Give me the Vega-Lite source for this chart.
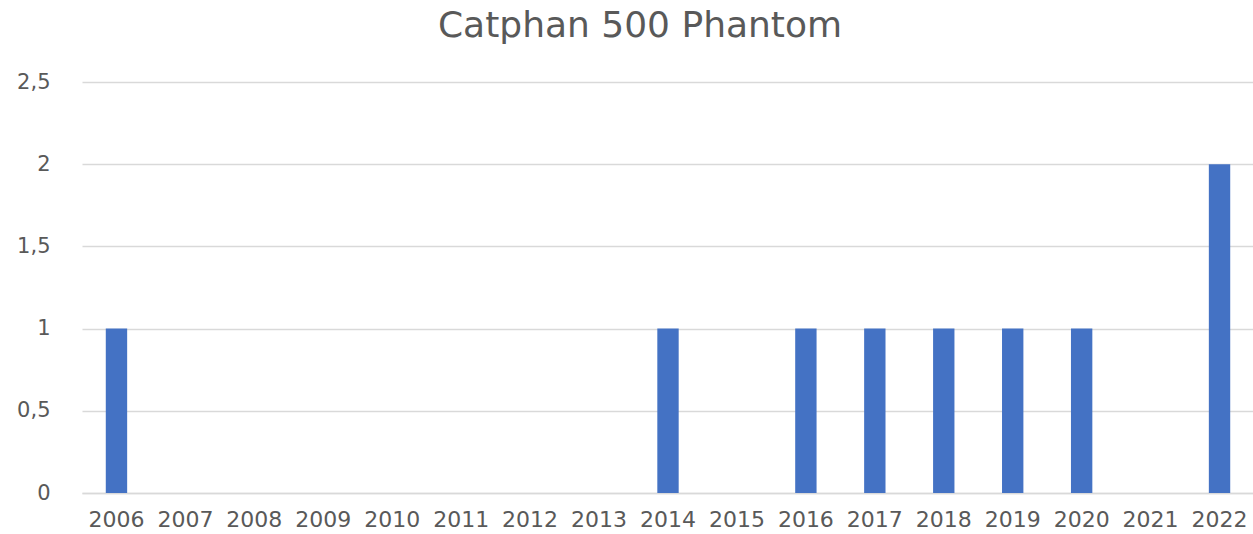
{
  "$schema": "https://vega.github.io/schema/vega-lite/v6.json",
  "autosize": {"type": "none"},
  "width": 1172,
  "height": 411,
  "padding": {"left": 82, "top": 82, "right": 0, "bottom": 41},
  "background": "white",
  "title": {
    "text": "Catphan 500 Phantom",
    "font": "DejaVu Sans",
    "fontSize": 36,
    "fontWeight": "normal",
    "color": "#595959",
    "anchor": "middle",
    "dx": -28,
    "offset": 26
  },
  "data": {
    "values": [
      {"year": "2006", "count": 1},
      {"year": "2007", "count": 0},
      {"year": "2008", "count": 0},
      {"year": "2009", "count": 0},
      {"year": "2010", "count": 0},
      {"year": "2011", "count": 0},
      {"year": "2012", "count": 0},
      {"year": "2013", "count": 0},
      {"year": "2014", "count": 1},
      {"year": "2015", "count": 0},
      {"year": "2016", "count": 1},
      {"year": "2017", "count": 1},
      {"year": "2018", "count": 1},
      {"year": "2019", "count": 1},
      {"year": "2020", "count": 1},
      {"year": "2021", "count": 0},
      {"year": "2022", "count": 2}
    ]
  },
  "mark": {"type": "bar", "color": "#4472C4"},
  "encoding": {
    "x": {
      "field": "year",
      "type": "ordinal",
      "scale": {"paddingInner": 0.69, "paddingOuter": 0.345},
      "axis": {
        "title": null,
        "labelAngle": 0,
        "labelFont": "DejaVu Sans",
        "labelFontSize": 22,
        "labelColor": "#595959",
        "labelPadding": 16,
        "ticks": false,
        "domainColor": "#d9d9d9",
        "domainWidth": 1.5,
        "grid": false
      }
    },
    "y": {
      "field": "count",
      "type": "quantitative",
      "scale": {"domain": [0, 2.5], "nice": false},
      "axis": {
        "title": null,
        "values": [0, 0.5, 1, 1.5, 2, 2.5],
        "labelExpr": "replace(format(datum.value, '~g'), '.', ',')",
        "labelFont": "DejaVu Sans",
        "labelFontSize": 21,
        "labelColor": "#595959",
        "labelPadding": 32,
        "ticks": false,
        "domain": false,
        "gridColor": "#d9d9d9",
        "gridWidth": 1.5
      }
    }
  },
  "config": {"view": {"stroke": null}}
}
